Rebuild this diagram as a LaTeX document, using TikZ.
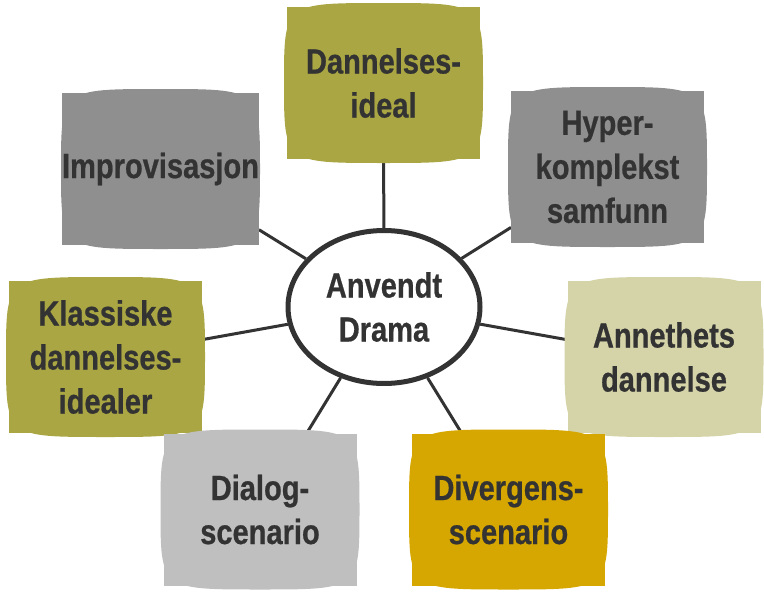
\documentclass[tikz,border=0pt]{standalone}
\usepackage{fontspec}
\usetikzlibrary{shapes.geometric,backgrounds}
\newfontfamily\lblfont[FakeStretch=0.83,FakeBold=0.6]{Liberation Sans Bold}
\definecolor{olive}{HTML}{A9A643}
\definecolor{midgray}{HTML}{8F8F8F}
\definecolor{lightgray}{HTML}{BEBFBE}
\definecolor{khaki}{HTML}{D5D4A9}
\definecolor{gold}{HTML}{D6A700}
\definecolor{txt}{HTML}{333333}
\tikzset{
  boxnode/.style={rectangle, minimum width=193pt, minimum height=152pt, inner sep=0pt, outer sep=0pt,
    text=txt, align=center, font=\lblfont\fontsize{35}{44}\selectfont},
  hubnode/.style={ellipse, draw=txt, line width=5pt, fill=white, minimum width=192pt, minimum height=153pt,
    inner sep=0pt, text=txt, align=center, font=\lblfont\fontsize{35}{44}\selectfont},
  conn/.style={draw=txt, line width=3pt}
}
\newcommand\sketchbox[5]{%
  \begin{scope}[shift={(#2,#3)}]
    \fill[#4] (99.5,0) .. controls (99.5,80) and (99.5,80) .. (0,80)
      .. controls (-99.5,80) and (-99.5,80) .. (-99.5,0)
      .. controls (-99.5,-80) and (-99.5,-80) .. (0,-80)
      .. controls (99.5,-80) and (99.5,-80) .. cycle;
  \end{scope}
  \node[boxnode, fill=#4] (#1) at (#2,#3) {#5};
}
\begin{document}
\begin{tikzpicture}[x=1pt, y=-1pt]
\useasboundingbox (0,0) rectangle (764,597);
\node[hubnode] (hub) at (384,307) {Anvendt\\Drama};
\sketchbox{dan}{383.5}{83}{olive}{Dannelses-\\ideal}
\sketchbox{imp}{160.5}{169}{midgray}{Improvisasjon}
\sketchbox{hyp}{607.5}{167}{midgray}{Hyper-\\komplekst\\samfunn}
\sketchbox{kla}{105.5}{357}{olive}{Klassiske\\dannelses-\\idealer}
\sketchbox{ann}{664}{357}{khaki}{Annethets\\dannelse}
\sketchbox{dia}{260}{509.5}{lightgray}{Dialog-\\scenario}
\sketchbox{div}{508.5}{509.5}{gold}{Divergens-\\scenario}
\begin{scope}[on background layer]
\draw[conn] (dan) -- (hub);
\draw[conn] (imp) -- (hub);
\draw[conn] (hyp) -- (hub);
\draw[conn] (kla) -- (hub);
\draw[conn] (ann) -- (hub);
\draw[conn] (dia) -- (hub);
\draw[conn] (div) -- (hub);
\end{scope}
\end{tikzpicture}
\end{document}
